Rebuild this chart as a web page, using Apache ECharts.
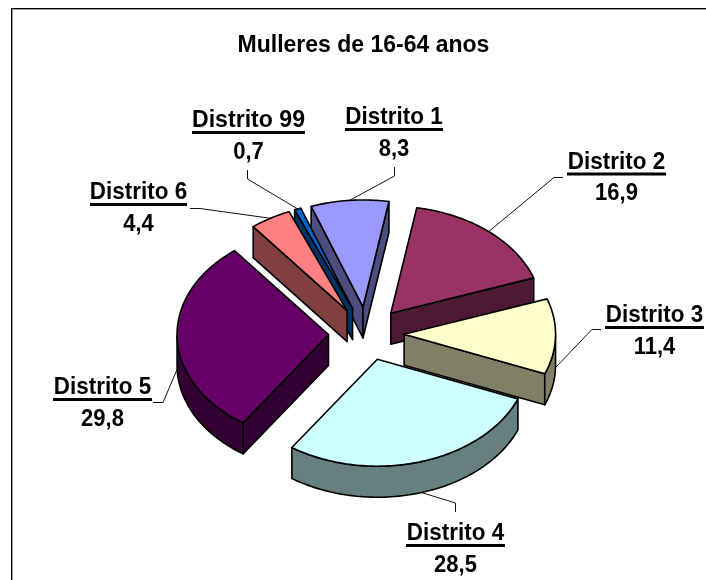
<!DOCTYPE html>
<html>
<head>
<meta charset="utf-8">
<style>html,body{margin:0;padding:0;background:#fff}#c{width:706px;height:580px}</style>
<script src="https://cdn.jsdelivr.net/npm/echarts@6/dist/echarts.min.js"></script>
</head>
<body>
<div id="c"></div>
<script>
// Data
var categories = ['Distrito 1','Distrito 2','Distrito 3','Distrito 4','Distrito 5','Distrito 6','Distrito 99'];
var values = [8.3,16.9,11.4,28.5,29.8,4.4,0.7];
var titleText = 'Mulleres de 16-64 anos';

// Styles
var topColors  = ['#9999FF','#993366','#FFFFCC','#CCFFFF','#660066','#FF8080','#0066CC'];
var sideColors = ['#4D4D80','#4D1A33','#808066','#668080','#330033','#804040','#003366'];

// Layout of the tilted, exploded pie
var pie = {cx:366.3, cy:333.6, rx:151.4, ry:107, depth:31, explode:0.25, startAngle:340};
// back-to-front painting order (indexes into categories)
var paintOrder = [0,6,5,1,2,4,3];
// label layout by category: centre x, underline y, underline half-width, text stretch, leader bend points
var labelLayout = [
  {x:394,  u:129.5,w:49,   sx:1.02, bend:[[394.5,167],[394.5,176]]},
  {x:616.5,u:174,  w:49.5, sx:1.02, bend:[[563,177.5],[554,177.5]]},
  {x:654.5,u:327.5,w:49.5, sx:1.02, bend:[[601,329.5],[592,329.5]]},
  {x:455.5,u:545.5,w:49.5, sx:1.02, bend:[[455.5,512],[455.5,503]]},
  {x:102.5,u:399.5,w:49.5, sx:1.02, bend:[[153,402.5],[163,402.5]]},
  {x:138.5,u:204.5,w:48.5, sx:1.02, bend:[[190,208.5],[200,208.5]]},
  {x:248.5,u:132.5,w:56.5, sx:1.05, bend:[[247.5,170],[247.5,179]]}
];
var labelFont = {fontFamily:'"Liberation Sans", Arial, sans-serif', fontWeight:'bold', fontSize:22, fill:'#000'};

var total = values.reduce(function(a,b){return a+b;},0);
var RAD = Math.PI/180;
function angles(i){
  var sum = 0;
  for (var k=0;k<i;k++) sum += values[k];
  var a = pie.startAngle + sum/total*360;
  return [a, a + values[i]/total*360];
}
function pt(deg, k){ return [pie.rx*k*Math.sin(deg*RAD), -pie.ry*k*Math.cos(deg*RAD)]; }
function faceVisible(normalDeg){ return Math.cos(normalDeg*RAD) < 0; }

function renderSlice(params, api){
  var i = api.value(0);
  var ang = angles(i), a = ang[0], b = ang[1], mid = (a+b)/2;
  var off = pt(mid, pie.explode);
  var ax = pie.cx+off[0], ay = pie.cy+off[1];
  function P(deg){ var p = pt(deg,1); return [ax+p[0], ay+p[1]]; }
  function down(p){ return [p[0], p[1]+pie.depth]; }
  var stroke = {stroke:'#000', lineWidth:1.6, lineJoin:'round'};
  var children = [];
  function poly(points, fill){
    children.push({type:'polygon', shape:{points:points}, style:Object.assign({fill:fill}, stroke), silent:true});
  }
  var apex = [ax,ay];
  // cut faces
  if (faceVisible(a-90)) poly([apex,P(a),down(P(a)),down(apex)], sideColors[i]);
  if (faceVisible(b+90)) poly([apex,P(b),down(P(b)),down(apex)], sideColors[i]);
  // outer rim: only the part facing the viewer
  var n0 = Math.ceil((a-90)/360), segs = [];
  for (var n=n0-1;n<=n0+1;n++){
    var s = Math.max(a, 90+360*n), e = Math.min(b, 270+360*n);
    if (e>s) segs.push([s,e]);
  }
  segs.forEach(function(seg){
    var up=[], lo=[];
    for (var d=seg[0]; d<seg[1]; d+=2){ up.push(P(d)); lo.unshift(down(P(d))); }
    up.push(P(seg[1])); lo.unshift(down(P(seg[1])));
    poly(up.concat(lo), sideColors[i]);
  });
  // top face
  var top=[apex];
  for (var d=a; d<b; d+=1) top.push(P(d));
  top.push(P(b));
  poly(top, topColors[i]);
  return {type:'group', children:children};
}

function renderLabel(params, api){
  var i = api.value(0), L = labelLayout[i];
  var ang = angles(i), mid = (ang[0]+ang[1])/2;
  var rim = pt(mid, 1+pie.explode);
  var nm = ((mid%360)+360)%360;
  var end = [pie.cx+rim[0], pie.cy+rim[1]+((nm>90&&nm<270)?pie.depth:0)];
  var line = L.bend.concat([end]);
  var kids = [
    {type:'polyline', shape:{points:line}, style:{stroke:'#111', lineWidth:1, fill:null}, silent:true},
    {type:'rect', shape:{x:L.x-L.w, y:L.u-1.5, width:L.w*2, height:3}, style:{fill:'#000'}, silent:true},
    {type:'text', x:L.x, y:L.u-11.5, scaleX:L.sx, scaleY:1.06, style:Object.assign({text:categories[i], align:'center', verticalAlign:'middle'}, labelFont), silent:true},
    {type:'text', x:L.x, y:L.u+20, scaleY:1.06, style:Object.assign({text:values[i].toFixed(1).replace('.',','), align:'center', verticalAlign:'middle'}, labelFont), silent:true}
  ];
  return {type:'group', children:kids};
}

var chart = echarts.init(document.getElementById('c'), null, {renderer:'canvas'});
chart.setOption({
  animation:false,
  backgroundColor:'#fff',
  title:{text:titleText, left:358.5, top:29, textAlign:'center',
    textStyle:{fontFamily:labelFont.fontFamily, fontWeight:'bold', fontSize:23, color:'#000'}},
  graphic:[
    {type:'rect', shape:{x:12,y:9,width:694,height:1}, style:{fill:'#999'}, silent:true},
    {type:'rect', shape:{x:12,y:9,width:1,height:571}, style:{fill:'#999'}, silent:true},
    {type:'rect', shape:{x:11,y:8,width:695,height:1}, style:{fill:'#000'}, silent:true},
    {type:'rect', shape:{x:11,y:8,width:1,height:572}, style:{fill:'#000'}, silent:true}
  ],
  series:[
    {type:'custom', coordinateSystem:'none', silent:true, renderItem:renderLabel,
     data:categories.map(function(c,i){return {name:c, value:[i,values[i]]};})},
    {type:'custom', coordinateSystem:'none', silent:true, renderItem:renderSlice,
     data:paintOrder.map(function(i){return {name:categories[i], value:[i,values[i]]};})}
  ]
});
</script>
</body>
</html>
